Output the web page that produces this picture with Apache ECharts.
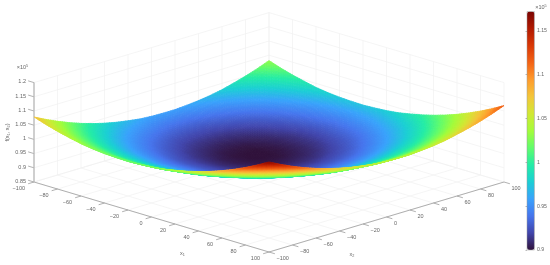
<!DOCTYPE html>
<html>
<head>
<meta charset="utf-8">
<style>html,body{margin:0;padding:0;background:#fff}#c{width:550px;height:265px;filter:blur(0.4px)}</style>
<script src="https://cdn.jsdelivr.net/npm/echarts@6/dist/echarts.min.js"></script>
</head>
<body>
<div id="c"></div>
<script>
// Axis ticks
const x1Ticks = [-100,-80,-60,-40,-20,0,20,40,60,80,100];
const x2Ticks = [-100,-80,-60,-40,-20,0,20,40,60,80,100];
const zTicks = [0.85,0.9,0.95,1,1.05,1.1,1.15,1.2];
const zTickLabels = ['0.85','0.9','0.95','1','1.05','1.1','1.15','1.2'];
// Surface samples (x 10^5), rows = x1, columns = x2
const x1Grid = [-100,-90,-80,-70,-60,-50,-40,-30,-20,-10,0,10,20,30,40,50,60,70,80,90,100];
const x2Grid = [-100,-90,-80,-70,-60,-50,-40,-30,-20,-10,0,10,20,30,40,50,60,70,80,90,100];
const surfaceZ = [
[1.079,1.058,1.039,1.022,1.007,0.994,0.983,0.974,0.967,0.961,0.958,0.957,0.957,0.960,0.964,0.970,0.978,0.989,1.001,1.015,1.031],
[1.065,1.044,1.025,1.008,0.993,0.980,0.969,0.960,0.953,0.948,0.944,0.943,0.943,0.946,0.950,0.956,0.965,0.975,0.987,1.001,1.017],
[1.053,1.032,1.013,0.996,0.981,0.968,0.957,0.948,0.941,0.936,0.932,0.931,0.931,0.934,0.938,0.944,0.953,0.963,0.975,0.989,1.005],
[1.043,1.022,1.003,0.986,0.971,0.958,0.947,0.938,0.931,0.925,0.922,0.921,0.921,0.924,0.928,0.934,0.942,0.953,0.965,0.979,0.995],
[1.034,1.014,0.995,0.978,0.963,0.950,0.939,0.930,0.923,0.917,0.914,0.913,0.913,0.915,0.920,0.926,0.934,0.944,0.957,0.971,0.986],
[1.028,1.008,0.989,0.972,0.957,0.944,0.933,0.924,0.916,0.911,0.908,0.906,0.907,0.909,0.914,0.920,0.928,0.938,0.950,0.964,0.980],
[1.024,1.003,0.984,0.968,0.953,0.940,0.928,0.919,0.912,0.907,0.903,0.902,0.902,0.905,0.909,0.916,0.924,0.934,0.946,0.960,0.976],
[1.022,1.001,0.982,0.965,0.950,0.937,0.926,0.917,0.910,0.904,0.901,0.900,0.900,0.903,0.907,0.913,0.921,0.932,0.944,0.958,0.974],
[1.021,1.000,0.982,0.965,0.950,0.937,0.926,0.917,0.909,0.904,0.901,0.899,0.900,0.902,0.907,0.913,0.921,0.931,0.943,0.957,0.973],
[1.023,1.002,0.983,0.966,0.951,0.938,0.927,0.918,0.911,0.906,0.902,0.901,0.901,0.904,0.908,0.914,0.923,0.933,0.945,0.959,0.975],
[1.026,1.005,0.987,0.970,0.955,0.942,0.931,0.921,0.914,0.909,0.906,0.904,0.905,0.907,0.911,0.918,0.926,0.936,0.948,0.962,0.978],
[1.031,1.011,0.992,0.975,0.960,0.947,0.936,0.927,0.920,0.914,0.911,0.910,0.910,0.912,0.917,0.923,0.931,0.941,0.954,0.968,0.983],
[1.039,1.018,0.999,0.982,0.967,0.954,0.943,0.934,0.927,0.922,0.918,0.917,0.917,0.920,0.924,0.930,0.939,0.949,0.961,0.975,0.991],
[1.048,1.027,1.008,0.992,0.977,0.964,0.953,0.943,0.936,0.931,0.927,0.926,0.927,0.929,0.933,0.940,0.948,0.958,0.970,0.984,1.000],
[1.059,1.038,1.020,1.003,0.988,0.975,0.964,0.955,0.947,0.942,0.939,0.937,0.938,0.940,0.944,0.951,0.959,0.969,0.981,0.995,1.011],
[1.072,1.052,1.033,1.016,1.001,0.988,0.977,0.968,0.960,0.955,0.952,0.950,0.951,0.953,0.958,0.964,0.972,0.982,0.994,1.008,1.024],
[1.087,1.067,1.048,1.031,1.016,1.003,0.992,0.983,0.975,0.970,0.967,0.965,0.966,0.968,0.973,0.979,0.987,0.997,1.009,1.023,1.039],
[1.104,1.083,1.065,1.048,1.033,1.020,1.009,1.000,0.992,0.987,0.984,0.982,0.983,0.985,0.990,0.996,1.004,1.014,1.026,1.040,1.056],
[1.123,1.102,1.084,1.067,1.052,1.039,1.028,1.018,1.011,1.006,1.003,1.001,1.002,1.004,1.008,1.015,1.023,1.033,1.045,1.059,1.075],
[1.144,1.123,1.104,1.087,1.073,1.060,1.048,1.039,1.032,1.027,1.023,1.022,1.022,1.025,1.029,1.036,1.044,1.054,1.066,1.080,1.096],
[1.167,1.146,1.127,1.110,1.095,1.082,1.071,1.062,1.055,1.049,1.046,1.045,1.045,1.048,1.052,1.058,1.067,1.077,1.089,1.103,1.119]
];
const colorbarTicks = [0.9,0.95,1,1.05,1.1,1.15];
const colorMin = 0.9, colorMax = 1.172;
const turbo = ['#30123b','#4145ab','#4675ed','#39a2fc','#1bcfd4','#24eca6','#61fc6c','#a4fc3b','#d1e834','#f3c63a','#fe9b2d','#f36315','#d93806','#b11901','#7a0402'];

// Orthographic view: data space -> plane of the page
const view = {cx:269, cy:182, kx:1.175, ky:0.35, kz:284, z0:0.85};
function project(x1, x2, z){
  return [view.cx + view.kx*(x1+x2), view.cy + view.ky*(x1-x2) - view.kz*(z-view.z0)];
}
const zTop = zTicks[zTicks.length-1], zBase = zTicks[0];
const X0 = x1Ticks[0], X1 = x1Ticks[x1Ticks.length-1], Y0 = x2Ticks[0], Y1 = x2Ticks[x2Ticks.length-1];

// Grid segments
const wallSegs = [];
x1Ticks.forEach(t => {
  wallSegs.push([t,Y0,zBase,t,Y1,zBase]);
  wallSegs.push([t,Y1,zBase,t,Y1,zTop]);
});
x2Ticks.forEach(t => {
  wallSegs.push([X0,t,zBase,X1,t,zBase]);
  wallSegs.push([X0,t,zBase,X0,t,zTop]);
});
zTicks.forEach(t => {
  wallSegs.push([X0,Y0,t,X0,Y1,t]);
  wallSegs.push([X0,Y1,t,X1,Y1,t]);
});
// Axes and ticks
const axisSegs = [[X0,Y0,zBase,X1,Y0,zBase],[X1,Y0,zBase,X1,Y1,zBase]];
const tickLen = 5;
x1Ticks.forEach(t => axisSegs.push([t,Y0,zBase,t,Y0-tickLen,zBase]));
x2Ticks.forEach(t => axisSegs.push([X1,t,zBase,X1+tickLen,t,zBase]));
const zAxisSeg = [[X0,Y0,zBase,X0,Y0,zTop]];
zTicks.forEach(t => axisSegs.push([X0,Y0,t,X0-tickLen,Y0,t]));

// Surface cells, far corner first
const cells = [];
for (let i=0;i<x1Grid.length-1;i++){
  for (let j=x2Grid.length-2;j>=0;j--){
    cells.push([x1Grid[i],x2Grid[j],surfaceZ[i][j],i,j]);
  }
}
const SUB = 5;
function colorOf(z){
  const t = Math.max(0,Math.min(1,(z-colorMin)/(colorMax-colorMin)));
  return echarts.color.lerp(t,turbo);
}
function renderSurface(params, api){
  const i = api.value(3), j = api.value(4);
  const u0=x1Grid[i],u1=x1Grid[i+1],v0=x2Grid[j],v1=x2Grid[j+1];
  const a=surfaceZ[i][j],b=surfaceZ[i+1][j],c=surfaceZ[i][j+1],d=surfaceZ[i+1][j+1];
  const zAt=(s,t)=>a*(1-s)*(1-t)+b*s*(1-t)+c*(1-s)*t+d*s*t;
  const pt=(s,t)=>api.coord(project(u0+(u1-u0)*s,v0+(v1-v0)*t,zAt(s,t)));
  const children=[];
  for(let p=0;p<SUB;p++){
    for(let q=SUB-1;q>=0;q--){
      const s0=p/SUB,s1=(p+1)/SUB,t0=q/SUB,t1=(q+1)/SUB;
      const col=colorOf(zAt((s0+s1)/2,(t0+t1)/2));
      children.push({type:'polygon',shape:{points:[pt(s0,t0),pt(s1,t0),pt(s1,t1),pt(s0,t1)]},
        style:{fill:col,stroke:col,lineWidth:0.8},silent:true});
    }
  }
  return {type:'group',children};
}
function segRenderer(color,width){
  return function(params,api){
    const a=api.coord(project(api.value(0),api.value(1),api.value(2)));
    const b=api.coord(project(api.value(3),api.value(4),api.value(5)));
    return {type:'line',shape:{x1:a[0],y1:a[1],x2:b[0],y2:b[1]},style:{stroke:color,lineWidth:width,fill:null},silent:true};
  };
}
// Text labels
const TXT='#666';
const FONT='"Liberation Sans",Arial,sans-serif';
const labelData=[];
x1Ticks.forEach(t=>labelData.push({value:[t,Y0,zBase,-9,6.5],text:String(t).replace('-','\u2212'),align:'right'}));
x2Ticks.forEach(t=>labelData.push({value:[X1,t,zBase,7.5,6.5],text:String(t).replace('-','\u2212'),align:'left'}));
zTicks.forEach((t,k)=>labelData.push({value:[X0,Y0,t,-8,-0.8],text:zTickLabels[k],align:'right'}));
const richSet={x:{fontSize:5.5,fontFamily:FONT,color:TXT},s:{fontSize:3.8,fontFamily:FONT,color:TXT,padding:[3,0,0,0]},u:{fontSize:3.8,fontFamily:FONT,color:TXT,padding:[0,0,3,0]}};
function renderLabel(params,api){
  const d=labelData[params.dataIndex];
  const p=api.coord(project(api.value(0),api.value(1),api.value(2)));
  return {type:'text',x:p[0]+api.value(3),y:p[1]+api.value(4),silent:true,
    style:{text:d.text,fill:TXT,font:'5.5px '+FONT,align:d.align,verticalAlign:'middle'}};
}
const freeText=[
  {pos:[182.5,253],text:'{x|x}{s|1}',rot:0,align:'center'},
  {pos:[352,254],text:'{x|x}{s|2}',rot:0,align:'center'},
  {pos:[22.5,67],text:'{x|\u00d710}{u|5}',rot:0,align:'center'},
  {pos:[541,7],text:'{x|\u00d710}{u|5}',rot:0,align:'center'},
  {pos:[7.5,132.5],text:'{x|f(x}{s|1}{x|, x}{s|2}{x|)}',rot:Math.PI/2,align:'center'}
];
function renderFree(params,api){
  const d=freeText[params.dataIndex];
  const p=api.coord(d.pos);
  return {type:'text',x:p[0],y:p[1],rotation:d.rot,silent:true,
    style:{text:d.text,rich:richSet,align:d.align,verticalAlign:'middle',fill:TXT}};
}

const chart=echarts.init(document.getElementById('c'),null,{renderer:'canvas'});
chart.setOption({
  animation:false,
  backgroundColor:'#fff',
  grid:[
    {left:0,top:0,width:550,height:265,show:false},
    {left:527,top:11.5,width:7.5,height:238.5,show:true,borderColor:'#999',borderWidth:0.5,backgroundColor:'transparent',z:5}
  ],
  xAxis:[
    {type:'value',min:0,max:550,show:false,gridIndex:0},
    {type:'value',min:0,max:1,show:false,gridIndex:1}
  ],
  yAxis:[
    {type:'value',min:0,max:265,inverse:true,show:false,gridIndex:0},
    {type:'value',min:colorMin,max:colorMax,interval:0.05,gridIndex:1,position:'right',z:6,
      axisLine:{show:false},splitLine:{show:false},
      axisTick:{show:true,inside:true,length:1.5,lineStyle:{color:'#777',width:0.5},
        customValues:colorbarTicks},
      axisLabel:{show:true,margin:2.5,fontSize:5.2,color:TXT,fontFamily:'Liberation Sans',
        customValues:colorbarTicks,
        formatter:v=>String(+(+v).toFixed(2))}}
  ],
  visualMap:{type:'continuous',seriesIndex:2,dimension:2,min:colorMin,max:colorMax,
    left:527,top:11.5,itemWidth:7.5,itemHeight:238.5,padding:0,text:null,
    calculable:false,hoverLink:false,inRange:{color:turbo},textStyle:{fontSize:1,color:'transparent'}},
  series:[
    {type:'custom',name:'grid',coordinateSystem:'cartesian2d',xAxisIndex:0,yAxisIndex:0,
      renderItem:segRenderer('#f1f1f1',0.7),data:wallSegs,silent:true,z:1,progressive:0,
      encode:{x:0,y:1}},
    {type:'custom',name:'axes',coordinateSystem:'cartesian2d',xAxisIndex:0,yAxisIndex:0,
      renderItem:segRenderer('#8f8f8f',0.7),data:axisSegs,silent:true,z:2,progressive:0,
      encode:{x:0,y:1}},
    {type:'custom',name:'f(x1,x2)',coordinateSystem:'cartesian2d',xAxisIndex:0,yAxisIndex:0,
      renderItem:renderSurface,data:cells,silent:true,z:3,progressive:0,
      encode:{x:0,y:1}},
    {type:'custom',name:'zaxis',coordinateSystem:'cartesian2d',xAxisIndex:0,yAxisIndex:0,
      renderItem:segRenderer('#b8b8b8',1.3),data:zAxisSeg,silent:true,z:2,progressive:0,
      encode:{x:0,y:1}},
    {type:'custom',name:'labels',coordinateSystem:'cartesian2d',xAxisIndex:0,yAxisIndex:0,
      renderItem:renderLabel,data:labelData.map(d=>d.value),silent:true,z:4,progressive:0,
      encode:{x:0,y:1}},
    {type:'custom',name:'titles',coordinateSystem:'cartesian2d',xAxisIndex:0,yAxisIndex:0,
      renderItem:renderFree,data:freeText.map(d=>d.pos),silent:true,z:4,progressive:0,
      encode:{x:0,y:1}}
  ]
});
</script>
</body>
</html>
